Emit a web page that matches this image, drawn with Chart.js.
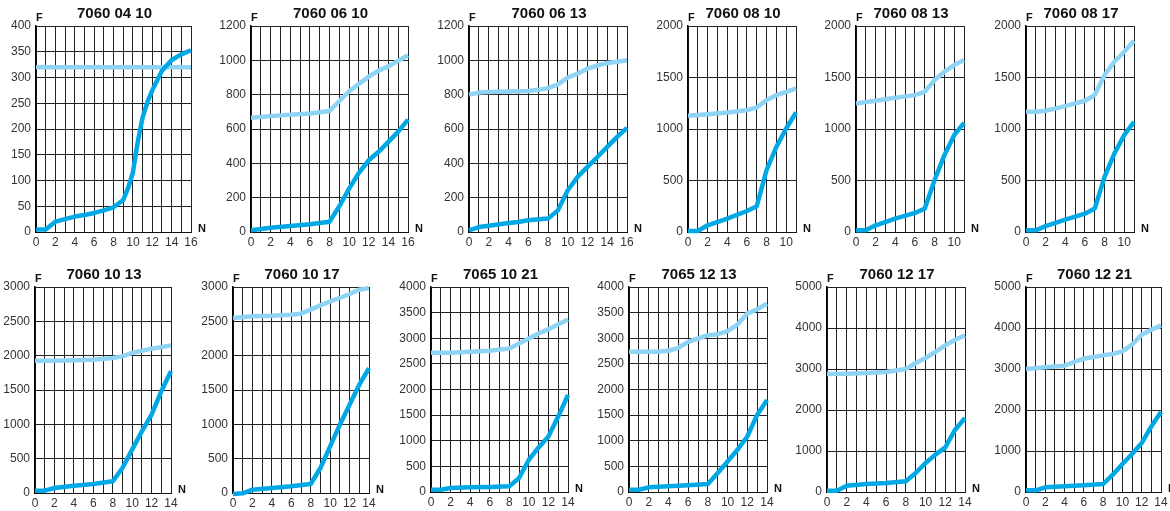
<!DOCTYPE html>
<html><head><meta charset="utf-8">
<script src="https://cdn.jsdelivr.net/npm/chart.js@4"></script>
<style>
html,body{margin:0;padding:0;background:#fff;width:1170px;height:511px;overflow:hidden;position:relative;}
.box{position:absolute;}
canvas{display:block;}
</style></head><body>
<script>
// ---------- DATA ----------
const TITLES = ["7060 04 10","7060 06 10","7060 06 13","7060 08 10","7060 08 13","7060 08 17",
                "7060 10 13","7060 10 17","7065 10 21","7065 12 13","7060 12 17","7060 12 21"];
const N_MAX  = [16,16,16,11,11,11,14,14,14,14,14,14];
const F_MAX  = [400,1200,1200,2000,2000,2000,3000,3000,4000,4000,5000,5000];
const F_STEP = [50,200,200,500,500,500,500,500,500,500,1000,1000];

// 7060 04 10
const N_0410_up = [0,16];
const F_0410_up = [320,320];
const N_0410_lo = [0,1,2,3,4,5,6,7,8,9,9.5,10,10.5,11,11.5,12,13,14,15,16];
const F_0410_lo = [5,5,20,25,30,33,37,42,48,62,85,115,175,222,252,275,313,334,345,353];
// 7060 06 10
const N_0610_up = [0,2,4,6,8,10,12,13,14,16];
const F_0610_up = [665,675,683,690,705,820,905,940,965,1030];
const N_0610_lo = [0,2,4,6,8,9,10,11,12,13,14,15,16];
const F_0610_lo = [10,25,35,45,60,150,253,345,418,467,525,585,655];
// 7060 06 13
const N_0613_up = [0,1,2,4,6,7,8,9,10,11,12,13,14,15,16];
const F_0613_up = [800,812,815,818,822,828,838,860,900,922,952,970,985,992,1000];
const N_0613_lo = [0,1,2,4,5,6,8,9,10,11,12,13,14,15,16];
const F_0613_lo = [10,29,37,52,58,68,78,126,243,321,379,437,496,554,607];
// 7060 08 10
const N_0810_up = [0,2,4,6,7,8,9,10,11];
const F_0810_up = [1128,1144,1160,1183,1209,1280,1329,1361,1394];
const N_0810_lo = [0,1,2,4,6,7,8,9,10,11];
const F_0810_lo = [10,10,65,130,204,250,600,826,1005,1160];
// 7060 08 13
const N_0813_up = [0,2,4,6,7,8,9,10,11];
const F_0813_up = [1248,1274,1303,1329,1361,1475,1556,1621,1670];
const N_0813_lo = [0,1,2,4,6,7,8,9,10,11];
const F_0813_lo = [16,16,65,130,185,227,502,746,940,1060];
// 7060 08 17
const N_0817_up = [0,1,2,4,6,7,8,9,10,11];
const F_0817_up = [1167,1167,1177,1222,1274,1329,1524,1653,1750,1857];
const N_0817_lo = [0,1,2,4,6,7,8,9,10,11];
const F_0817_lo = [16,16,58,120,178,227,535,762,940,1070];
// 7060 10 13
const N_1013_up = [0,2,4,6,8,9,10,12,14];
const F_1013_up = [1927,1927,1932,1942,1966,1990,2039,2102,2150];
const N_1013_lo = [0,1,2,4,6,8,9,10,11,12,13,14];
const F_1013_lo = [34,34,73,107,131,170,364,631,898,1141,1481,1772];
// 7060 10 17
const N_1017_up = [0,2,4,6,7,8,9,10,11,12,13,14];
const F_1017_up = [2549,2573,2583,2597,2612,2670,2733,2791,2840,2898,2961,2985];
const N_1017_lo = [0,1,2,4,6,8,9,10,11,12,13,14];
const F_1017_lo = [-15,-5,49,73,97,131,364,680,995,1286,1578,1820];
// 7065 10 21
const N_1021_up = [0,2,4,6,8,9,10,11,12,14];
const F_1021_up = [2717,2717,2736,2756,2801,2898,2995,3092,3177,3364];
const N_1021_lo = [0,1,2,4,6,8,9,10,11,12,13,14];
const F_1021_lo = [45,45,78,91,97,110,272,629,869,1083,1472,1893];
// 7065 12 13
const N_1213_up = [0,3,4,5,6,7,8,9,10,11,12,13,14];
const F_1213_up = [2736,2736,2756,2814,2930,2995,3060,3079,3138,3267,3481,3566,3676];
const N_1213_lo = [0,1,2,4,6,8,9,10,11,12,13,14];
const F_1213_lo = [45,45,91,110,130,156,370,596,823,1083,1504,1796];
// 7060 12 17
const N_1217_up = [0,2,4,6,8,9,10,11,12,13,14];
const F_1217_up = [2878,2886,2902,2927,3000,3146,3268,3415,3577,3715,3821];
const N_1217_lo = [0,1,2,4,6,8,9,10,11,12,13,14];
const F_1217_lo = [33,33,154,195,220,260,463,707,911,1089,1520,1805];
// 7060 12 21
const N_1221_up = [0,2,4,5,6,8,9,10,11,12,13,14];
const F_1221_up = [3000,3041,3081,3171,3252,3333,3366,3431,3593,3837,3959,4057];
const N_1221_lo = [0,1,2,4,6,8,9,10,11,12,13,14];
const F_1221_lo = [41,41,114,138,163,195,423,683,927,1195,1602,1951];

const UPPER = [[N_0410_up,F_0410_up],[N_0610_up,F_0610_up],[N_0613_up,F_0613_up],[N_0810_up,F_0810_up],
               [N_0813_up,F_0813_up],[N_0817_up,F_0817_up],[N_1013_up,F_1013_up],[N_1017_up,F_1017_up],
               [N_1021_up,F_1021_up],[N_1213_up,F_1213_up],[N_1217_up,F_1217_up],[N_1221_up,F_1221_up]];
const LOWER = [[N_0410_lo,F_0410_lo],[N_0610_lo,F_0610_lo],[N_0613_lo,F_0613_lo],[N_0810_lo,F_0810_lo],
               [N_0813_lo,F_0813_lo],[N_0817_lo,F_0817_lo],[N_1013_lo,F_1013_lo],[N_1017_lo,F_1017_lo],
               [N_1021_lo,F_1021_lo],[N_1213_lo,F_1213_lo],[N_1217_lo,F_1217_lo],[N_1221_lo,F_1221_lo]];

// ---------- LAYOUT (plot area: left, right, top, bottom) ----------
const PLOT = [[36,191,26,232],[251,408,26,232],[469,627,26,232],[688,796,26,232],[856,964,26,232],[1026,1134,26,232],
              [35,171,287,493],[233,369,287,493],[431,568,287,492],[629,767,287,492],[827,965,287,492],[1026,1161,287,492]];
const YW = 40, XH = 22, PT = 34, PR = 26;

const DARK = '#00A9E6', LIGHT = '#8FD4F4';
const FONT = '"Liberation Sans", Arial, Helvetica, sans-serif';

const labelPlugin = {
  id: 'panelLabels',
  afterDraw(chart, args, opts) {
    const {ctx, chartArea: a} = chart;
    ctx.save();
    ctx.fillStyle = '#111';
    ctx.textBaseline = 'middle';
    ctx.font = 'bold 15px ' + FONT;
    ctx.textAlign = 'center';
    ctx.fillText(opts.title, (a.left + a.right) / 2 + 1, a.top - 12);
    ctx.font = 'bold 11px ' + FONT;
    ctx.textAlign = 'left';
    ctx.fillText('F', a.left, a.top - 8);
    ctx.fillText('N', a.right + 7, a.bottom - 3);
    ctx.restore();
  }
};

function pts(pair) { return pair[0].map((n, i) => ({x: n, y: pair[1][i]})); }

for (let i = 0; i < 12; i++) {
  const [L, R, T, B] = PLOT[i];
  const w = YW + (R - L) + PR, h = PT + (B - T) + XH;
  const div = document.createElement('div');
  div.className = 'box';
  div.style.left = (L - YW) + 'px';
  div.style.top = (T - PT) + 'px';
  div.style.width = w + 'px';
  div.style.height = h + 'px';
  const cv = document.createElement('canvas');
  cv.width = w; cv.height = h;
  cv.style.width = w + 'px'; cv.style.height = h + 'px';
  div.appendChild(cv);
  document.body.appendChild(div);

  new Chart(cv, {
    type: 'line',
    data: {
      datasets: [
        {data: pts(LOWER[i]), borderColor: DARK, borderWidth: 4.5, pointRadius: 0, tension: 0,
         borderJoinStyle: 'round', fill: false, clip: false},
        {data: pts(UPPER[i]), borderColor: LIGHT, borderWidth: 4.5, pointRadius: 0, tension: 0,
         borderJoinStyle: 'round', fill: false, clip: false}
      ]
    },
    options: {
      responsive: false,
      animation: false,
      devicePixelRatio: 1,
      layout: {padding: {left: 0, top: PT, right: PR, bottom: 0}},
      plugins: {legend: {display: false}, tooltip: {enabled: false}, title: {display: false},
                panelLabels: {title: TITLES[i]}},
      scales: {
        x: {
          type: 'linear', min: 0, max: N_MAX[i],
          grid: {color: '#222', lineWidth: 1, drawTicks: false},
          border: {color: '#111', width: 1},
          ticks: {stepSize: 1, autoSkip: false, maxRotation: 0, padding: 3, color: '#333',
                  font: {family: FONT, size: 12},
                  callback: v => (v % 2 === 0 ? String(v) : '')},
          afterFit: s => { s.height = XH; }
        },
        y: {
          type: 'linear', min: 0, max: F_MAX[i],
          grid: {color: '#222', lineWidth: 1, drawTicks: false},
          border: {color: '#000', width: 1.5},
          ticks: {stepSize: F_STEP[i], padding: 5, color: '#333', font: {family: FONT, size: 12},
                  callback: v => String(v)},
          afterFit: s => { s.width = YW; }
        }
      }
    },
    plugins: [labelPlugin]
  });
}
</script>
</body></html>
